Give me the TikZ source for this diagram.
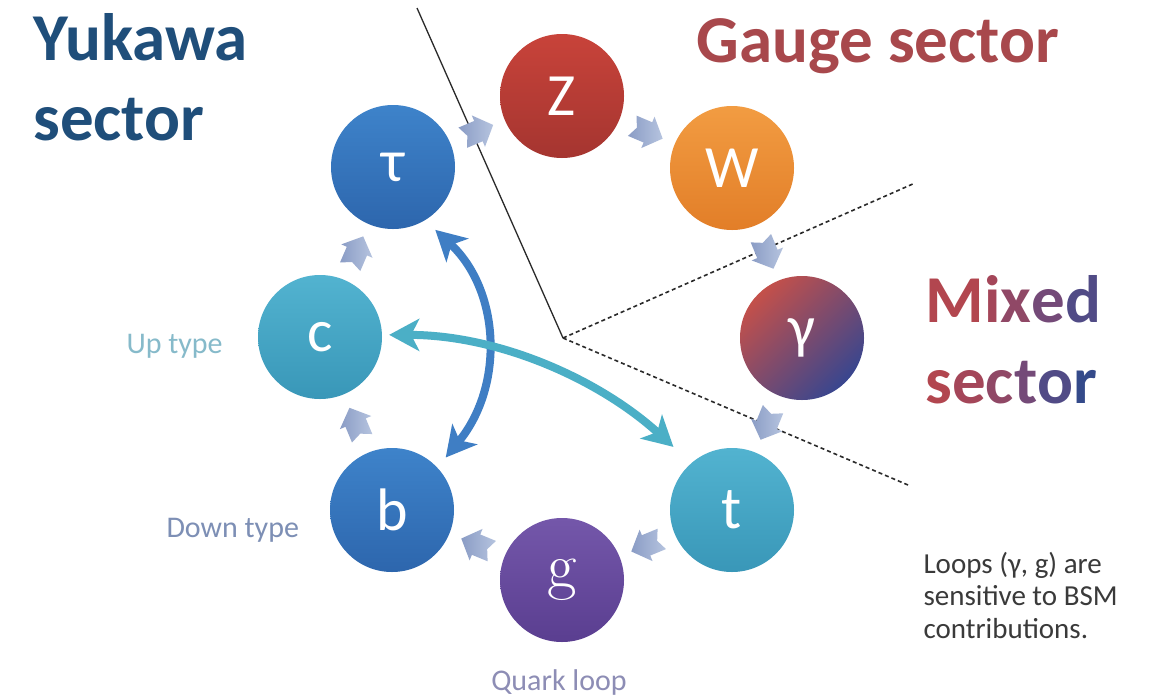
\documentclass[tikz,border=0pt]{standalone}
\usepackage{fontspec}
\setmainfont{Carlito}
\newfontfamily\lmfont{Latin Modern Roman}
\usetikzlibrary{arrows.meta,calc}
\definecolor{yukcol}{HTML}{1F4E7A}
\definecolor{gaugecol}{HTML}{A8484C}
\definecolor{blueTop}{HTML}{3E83CA}
\definecolor{blueBot}{HTML}{2D66AD}
\definecolor{tealTop}{HTML}{52B3D0}
\definecolor{tealBot}{HTML}{3997B8}
\definecolor{zTop}{HTML}{C8433A}
\definecolor{zBot}{HTML}{A53530}
\definecolor{wTop}{HTML}{F29C42}
\definecolor{wBot}{HTML}{E27E28}
\definecolor{gTop}{HTML}{7457AA}
\definecolor{gBot}{HTML}{5A3E90}
\definecolor{gamRed}{HTML}{C4504A}
\definecolor{gamBlue}{HTML}{38468F}
\definecolor{arrLight}{HTML}{B6C4DF}
\definecolor{arrDark}{HTML}{8A9CC5}
\definecolor{bigBlue}{HTML}{3F7EC4}
\definecolor{bigTeal}{HTML}{4BAFC6}
\definecolor{upcol}{HTML}{86BACA}
\definecolor{downcol}{HTML}{7D8FB5}
\definecolor{quarkcol}{HTML}{8D8DB5}
\definecolor{loopcol}{HTML}{3A3A3A}
\definecolor{sepcol}{HTML}{2A2A2A}
\definecolor{mxA}{HTML}{B2464F}
\definecolor{mxB}{HTML}{A44659}
\definecolor{mxC}{HTML}{904866}
\definecolor{mxD}{HTML}{744A78}
\definecolor{mxE}{HTML}{514B86}
\definecolor{mxF}{HTML}{344A8A}
\begin{document}
\begin{tikzpicture}[x=1pt,y=-1pt,
  ball/.style={circle, minimum size=124pt, inner sep=0pt, text=white,
    font=\fontsize{60}{60}\selectfont},
  bluebal/.style={ball, top color=blueTop, bottom color=blueBot},
  tealbal/.style={ball, top color=tealTop, bottom color=tealBot},
  flowpic/.pic={
    \shade[left color=arrDark, right color=arrLight]
      (-16,-11) -- (1,-11) -- (1,-17) -- (17,0) -- (1,17) -- (1,11)
      -- (-16,11) -- (-11,0) -- cycle;
  },
  flowat/.style={sloped, allow upside down, pos=0.5},
  title/.style={anchor=base west, font=\bfseries\fontsize{67}{67}\selectfont},
  sidelabel/.style={anchor=base west, font=\fontsize{30}{30}\selectfont},
  looptext/.style={anchor=base west, text=loopcol, font=\fontsize{29}{29}\selectfont},
  sepline/.style={draw=sepcol, line width=1.3pt},
  dashline/.style={draw=sepcol, line width=1.6pt, dash pattern=on 4pt off 3pt},
  bigarrow/.style={line width=8pt, {Stealth[length=30pt,width=32pt,inset=8pt]}-{Stealth[length=30pt,width=32pt,inset=8pt]}}
]
\useasboundingbox (0,0) rectangle (1157,697);
\fill[white] (0,0) rectangle (1157,697);

% sector separators
\coordinate (ctr) at (563,338);
\coordinate (topend) at (417,8);
\coordinate (upend) at (915,183);
\coordinate (loend) at (908,485);
\draw[sepline] (topend) -- (ctr);
\draw[dashline] (ctr) -- (upend);
\draw[dashline] (ctr) -- (loend);

% particles
\node[bluebal] (tau) at (393,167) {τ};
\node[ball, top color=zTop, bottom color=zBot] (Z) at (562,96) {Z};
\node[ball, top color=wTop, bottom color=wBot] (W) at (732,168) {W};
\node[ball, top color=gamRed, bottom color=gamBlue, shading angle=45] (gam) at (802,338) {γ};
\node[tealbal] (t) at (732,510) {t};
\node[ball, top color=gTop, bottom color=gBot, font=\lmfont\fontsize{64}{64}\selectfont] (g) at (562,580) {g};
\node[bluebal] (b) at (392,510) {b};
\node[tealbal] (c) at (320,337) {c};

% flow arrows around the ring
\path (b.center) -- (c.center) pic[flowat] {flowpic};
\path (c.center) -- (tau.center) pic[flowat] {flowpic};
\path (tau.center) -- (Z.center) pic[flowat] {flowpic};
\path (Z.center) -- (W.center) pic[flowat] {flowpic};
\path (W.center) -- (gam.center) pic[flowat] {flowpic};
\path (gam.center) -- (t.center) pic[flowat] {flowpic};
\path (t.center) -- (g.center) pic[flowat] {flowpic};
\path (g.center) -- (b.center) pic[flowat] {flowpic};

% big coupling arrows
\draw[bigarrow, draw=bigBlue, shorten <=14pt, shorten >=13pt]
  (tau.-59) .. controls (500,290) and (505,385) .. (b.43);
\draw[bigarrow, draw=bigTeal, shorten <=7pt, shorten >=24pt]
  (c.2) .. controls (500,335) and (600,380) .. (t.131);

% titles
\node[title, text=yukcol] (yuk1) at (30,60) {Yukawa};
\node[title, text=yukcol] (yuk2) at (30,140) {sector};
\node[title, text=gaugecol] (gauge) at (693,62) {Gauge sector};
\node[title] (mix1) at (922,322) {\textcolor{mxA}{M}\textcolor{mxB}{i}\textcolor{mxC}{x}\textcolor{mxD}{e}\textcolor{mxE}{d}};
\node[title] (mix2) at (922,403) {\textcolor{mxA}{s}\textcolor{mxB}{e}\textcolor{mxC}{c}\textcolor{mxD}{t}\textcolor{mxE}{o}\textcolor{mxF}{r}};

% side labels
\node[sidelabel, text=upcol] (up) at (123,353) {Up type};
\node[sidelabel, text=downcol] (down) at (163,537) {Down type};
\node[sidelabel, text=quarkcol, anchor=base] (quark) at (559,690) {Quark loop};

% note
\node[looptext] (n1) at (920,573) {Loops (γ, g) are};
\node[looptext] (n2) at (920,605) {sensitive to BSM};
\node[looptext] (n3) at (920,638) {contributions.};
\end{tikzpicture}
\end{document}
